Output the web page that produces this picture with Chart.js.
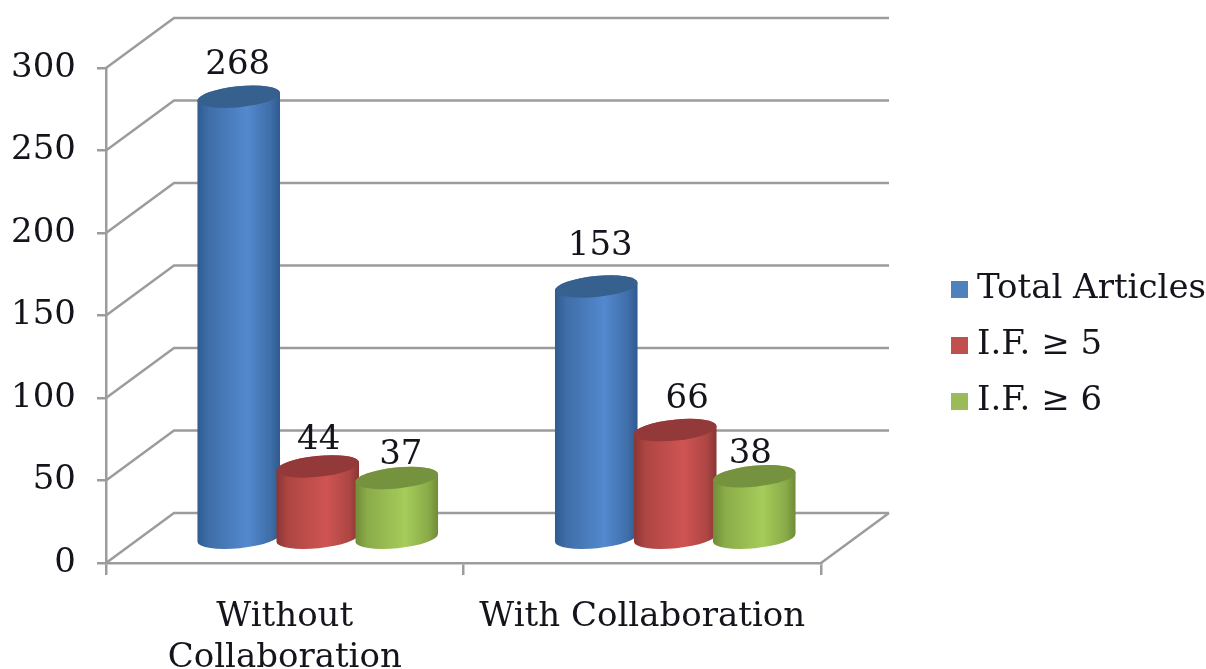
<!DOCTYPE html>
<html>
<head>
<meta charset="utf-8">
<title>Articles with and without collaboration</title>
<script src="https://cdn.jsdelivr.net/npm/chart.js@4"></script>
<style>
	html, body { margin: 0; padding: 0; background: #fff; }
	canvas { display: block; filter: blur(0.5px); }
</style>
</head>
<body>
<canvas id="myChart" width="1206" height="669"></canvas>
<script>
var categories = [["Without", "Collaboration"], "With Collaboration"];
var seriesNames = ["Total Articles", "I.F. \u2265 5", "I.F. \u2265 6"];
var totalArticles = [268, 153];
var ifFive = [44, 66];
var ifSix = [37, 38];
var yTicksMax = 300;
var yTicksStep = 50;

var FONT = "'DejaVu Serif'";
var GRID = "#9c9c9c";
var TEXT = "#14141c";
// depth of the fake 3d box, and where the cylinders stand inside it
var depth = { x: 68, y: -50 };
var barShift = { x: 33, y: -24 };
var barLook = [
	{ flat: "#4f81bd", edge: "#2e5a8f", mid: "#3f6ea8", light: "#5389cf", top: "#36618f" },
	{ flat: "#c0504d", edge: "#8a3533", mid: "#ad4643", light: "#cf5452", top: "#94393a" },
	{ flat: "#9bbb59", edge: "#6f8b38", mid: "#8aab49", light: "#a6cc5a", top: "#75933f" },
];
// value labels do not sit at a constant distance in the original
var labelNudge = [
	[[-1, -32], [4, -40]],
	[[1, -26], [12, -31]],
	[[4, -23], [-4, -22]],
];

function swatch(color) {
	const c = document.createElement("canvas");
	c.width = 17;
	c.height = 17;
	const g = c.getContext("2d");
	g.fillStyle = color;
	g.fillRect(0, 0, 17, 17);
	return c;
}

function drawCylinder(ctx, el, look) {
	const cx = el.x + barShift.x;
	const topY = el.y + barShift.y;
	const baseY = el.base + barShift.y;
	const rx = el.width / 2;
	const ry = 10.5;
	const tilt = -0.1;

	const grad = ctx.createLinearGradient(cx - rx, 0, cx + rx, 0);
	grad.addColorStop(0, look.edge);
	grad.addColorStop(0.14, look.mid);
	grad.addColorStop(0.6, look.light);
	grad.addColorStop(0.88, look.mid);
	grad.addColorStop(1, look.edge);

	ctx.beginPath();
	ctx.ellipse(cx, baseY, rx, ry, tilt, Math.PI, 0, true);
	ctx.ellipse(cx, topY, rx, ry, tilt, 0, Math.PI, true);
	ctx.closePath();
	ctx.fillStyle = grad;
	ctx.fill();

	ctx.beginPath();
	ctx.ellipse(cx, topY, rx, ry, tilt, 0, Math.PI * 2);
	ctx.fillStyle = look.top;
	ctx.fill();
}

const box3d = {
	id: "box3d",
	afterLayout(chart) {
		const legend = chart.legend;
		legend.left = 936;
		legend.right = 936 + legend.width;
		legend.top = 98;
		legend.bottom = 98 + legend.height;
	},
	beforeDatasetsDraw(chart) {
		const ctx = chart.ctx;
		const y = chart.scales.y;
		const left = chart.chartArea.left;
		const right = chart.chartArea.right;
		ctx.save();
		ctx.strokeStyle = GRID;
		ctx.lineWidth = 2.5;
		y.ticks.forEach(function (t) {
			const py = y.getPixelForValue(t.value);
			ctx.beginPath();
			ctx.moveTo(left, py);
			ctx.lineTo(left + depth.x, py + depth.y);
			ctx.lineTo(right + depth.x, py + depth.y);
			ctx.stroke();
		});
		// right edge of the floor
		const y0 = y.getPixelForValue(0);
		ctx.beginPath();
		ctx.moveTo(right + depth.x, y0 + depth.y);
		ctx.lineTo(right, y0);
		ctx.stroke();
		ctx.restore();
	},
	// the library's flat rectangles are replaced by cylinders below
	beforeDatasetDraw() {
		return false;
	},
	afterDatasetsDraw(chart) {
		const ctx = chart.ctx;
		ctx.save();
		chart.data.datasets.forEach(function (ds, i) {
			chart.getDatasetMeta(i).data.forEach(function (el) {
				drawCylinder(ctx, el, barLook[i]);
			});
		});
		ctx.font = "34px " + FONT;
		ctx.fillStyle = TEXT;
		ctx.textAlign = "center";
		ctx.textBaseline = "middle";
		chart.data.datasets.forEach(function (ds, i) {
			chart.getDatasetMeta(i).data.forEach(function (el, j) {
				const n = labelNudge[i][j];
				ctx.fillText(ds.data[j], el.x + barShift.x + n[0], el.y + barShift.y + n[1]);
			});
		});
		ctx.restore();
	},
};

const seriesValues = [totalArticles, ifFive, ifSix];

const data = {
	labels: categories,
	datasets: seriesNames.map(function (name, i) {
		return {
			label: name,
			data: seriesValues[i],
			backgroundColor: barLook[i].flat,
			pointStyle: swatch(barLook[i].flat),
			categoryPercentage: 0.663,
			barPercentage: 1.05,
		};
	}),
};

const config = {
	type: "bar",
	data: data,
	plugins: [box3d],
	options: {
		responsive: false,
		animation: false,
		layout: { padding: { top: 68, right: 385 } },
		plugins: {
			tooltip: { enabled: false },
			legend: {
				position: "chartArea",
				labels: {
					usePointStyle: true,
					pointStyleWidth: 2,
					boxHeight: 17,
					padding: 22,
					color: TEXT,
					font: { family: FONT, size: 34 },
				},
			},
		},
		scales: {
			x: {
				afterFit: function (scale) {
					scale.height = 106;
				},
				grid: { drawOnChartArea: false, color: GRID, lineWidth: 2.5, tickLength: 12 },
				border: { color: GRID, width: 2.5 },
				ticks: {
					color: TEXT,
					font: { family: FONT, size: 34, lineHeight: 1.22 },
					padding: 21,
					maxRotation: 0,
					autoSkip: false,
				},
			},
			y: {
				min: 0,
				max: yTicksMax,
				afterFit: function (scale) {
					scale.width = 106;
				},
				grid: { drawOnChartArea: false, color: GRID, lineWidth: 2.5, tickLength: 9 },
				border: { color: GRID, width: 2.5 },
				ticks: {
					stepSize: yTicksStep,
					color: TEXT,
					font: { family: FONT, size: 34 },
					padding: 21,
				},
			},
		},
	},
};

const myChart = new Chart(document.getElementById("myChart"), config);
</script>
</body>
</html>
